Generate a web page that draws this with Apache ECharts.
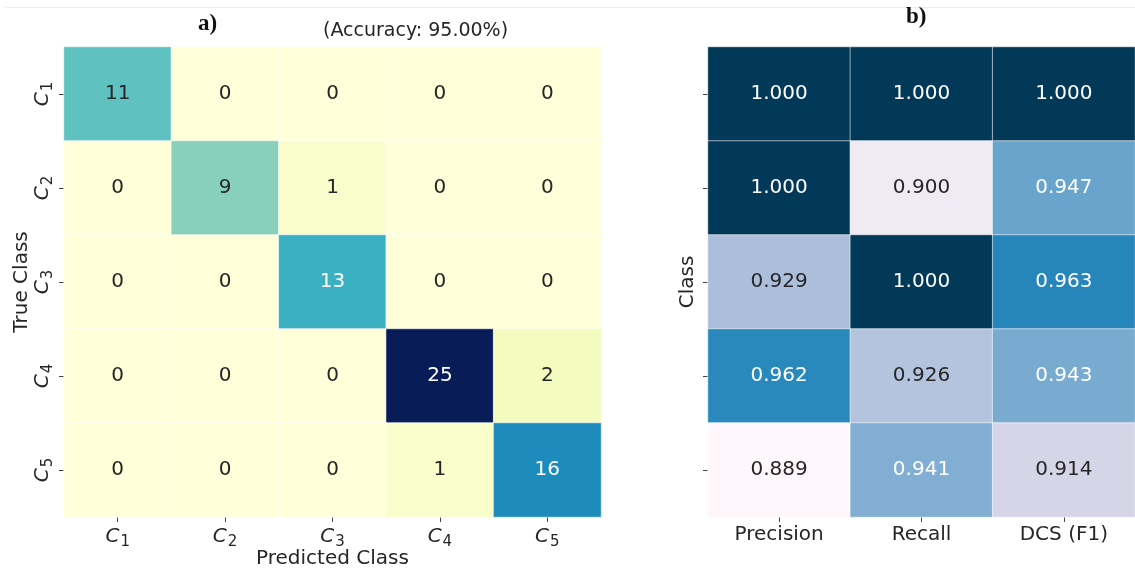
<!DOCTYPE html>
<html>
<head>
<meta charset="utf-8">
<script src="https://cdn.jsdelivr.net/npm/echarts@6/dist/echarts.min.js"></script>
<style>
html,body{margin:0;padding:0;background:#fff;}
#chart{width:1135px;height:569px;}
</style>
</head>
<body>
<div id="chart"></div>
<script>
// ---- data ----
const classSubs = ['1', '2', '3', '4', '5'];
const confusion = [
  [11, 0, 0, 0, 0],
  [0, 9, 1, 0, 0],
  [0, 0, 13, 0, 0],
  [0, 0, 0, 25, 2],
  [0, 0, 0, 1, 16]
];
const metricNames = ['Precision', 'Recall', 'DCS (F1)'];
const precision = [1.000, 1.000, 0.929, 0.962, 0.889];
const recall = [1.000, 0.900, 1.000, 0.926, 0.941];
const f1 = [1.000, 0.947, 0.963, 0.943, 0.914];
const accuracyText = '(Accuracy: 95.00%)';

// ---- colour maps ----
const YlGnBu = ['#ffffd9', '#edf8b1', '#c7e9b4', '#7fcdbb', '#41b6c4', '#1d91c0', '#225ea8', '#253494', '#081d58'];
const PuBu = ['#fff7fb', '#ece7f2', '#d0d1e6', '#a6bddb', '#74a9cf', '#3690c0', '#0570b0', '#045a8d', '#023858'];

const dark = '#262626';
const fontMain = 'DejaVu Sans';

const cmData = [];
confusion.forEach((row, r) => row.forEach((v, c) => {
  cmData.push({ value: [c, r, v], label: { color: v >= 13 ? '#ffffff' : dark } });
}));
const metricCols = [precision, recall, f1];
const mData = [];
metricCols.forEach((col, c) => col.forEach((v, r) => {
  mData.push({ value: [c, r, v], label: { color: v >= 0.94 ? '#ffffff' : dark } });
}));

const classCats = classSubs.map(s => 'C' + s);
const richC = {
  c: { fontFamily: fontMain, fontStyle: 'italic', fontSize: 20, color: dark, lineHeight: 26 },
  s: { fontFamily: fontMain, fontSize: 15, color: dark, lineHeight: 26, verticalAlign: 'bottom', padding: [9, 0, 0, 1] }
};
const fmtC = v => '{c|C}{s|' + v.slice(1) + '}';

const chart = echarts.init(document.getElementById('chart'));
chart.setOption({
  backgroundColor: '#ffffff',
  animation: false,
  graphic: [
    { type: 'line', shape: { x1: 5, y1: 7.5, x2: 1135, y2: 7.5 }, style: { stroke: '#eeeeee', lineWidth: 1 } },
    { type: 'text', left: 198, top: 13, style: { text: 'a)', font: 'bold 23px "Liberation Serif"', fill: '#111' } },
    { type: 'text', left: 323, top: 22, style: { text: accuracyText, font: '19px "DejaVu Sans"', fill: dark } },
    { type: 'text', left: 906, top: 6, style: { text: 'b)', font: 'bold 23px "Liberation Serif"', fill: '#111' } }
  ],
  grid: [
    { left: 64, top: 47, width: 537, height: 470, outerBoundsMode: 'none', containLabel: false },
    { left: 708, top: 47, width: 427, height: 470, outerBoundsMode: 'none', containLabel: false }
  ],
  xAxis: [
    {
      type: 'category', gridIndex: 0, data: classCats,
      axisLine: { show: false }, splitLine: { show: false },
      axisTick: { show: true, alignWithLabel: true, length: 5, lineStyle: { color: '#444' } },
      axisLabel: { margin: 7, formatter: fmtC, rich: richC },
      name: 'Predicted Class', nameLocation: 'middle', nameGap: 32, nameMoveOverlap: false,
      nameTextStyle: { fontFamily: fontMain, fontSize: 20, color: dark }
    },
    {
      type: 'category', gridIndex: 1, data: metricNames,
      axisLine: { show: false }, splitLine: { show: false },
      axisTick: { show: true, alignWithLabel: true, length: 5, lineStyle: { color: '#444' } },
      axisLabel: { margin: 8, fontFamily: fontMain, fontSize: 20, color: dark }
    }
  ],
  yAxis: [
    {
      type: 'category', gridIndex: 0, data: classCats, inverse: true,
      axisLine: { show: false }, splitLine: { show: false },
      axisTick: { show: true, alignWithLabel: true, length: 5, lineStyle: { color: '#444' } },
      axisLabel: { margin: 8, rotate: 90, formatter: fmtC, rich: richC },
      name: 'True Class', nameLocation: 'middle', nameGap: 32, nameRotate: 90, nameMoveOverlap: false,
      nameTextStyle: { fontFamily: fontMain, fontSize: 20, color: dark }
    },
    {
      type: 'category', gridIndex: 1, data: classCats, inverse: true,
      axisLine: { show: false }, splitLine: { show: false },
      axisTick: { show: true, alignWithLabel: true, length: 5, lineStyle: { color: '#444' } },
      axisLabel: { show: false },
      name: 'Class', nameLocation: 'middle', nameGap: 10, nameRotate: 90, nameMoveOverlap: false,
      nameTextStyle: { fontFamily: fontMain, fontSize: 20, color: dark }
    }
  ],
  visualMap: [
    { type: 'continuous', seriesIndex: 0, min: 0, max: 25, show: false, inRange: { color: YlGnBu } },
    { type: 'continuous', seriesIndex: 1, min: 0.889, max: 1.0, show: false, inRange: { color: PuBu } }
  ],
  series: [
    {
      type: 'heatmap', xAxisIndex: 0, yAxisIndex: 0, data: cmData,
      label: { show: true, fontFamily: fontMain, fontSize: 20, formatter: p => String(p.value[2]) },
      itemStyle: { borderColor: 'rgba(255,255,255,0.55)', borderWidth: 1 },
      emphasis: { disabled: true }
    },
    {
      type: 'heatmap', xAxisIndex: 1, yAxisIndex: 1, data: mData,
      label: { show: true, fontFamily: fontMain, fontSize: 20, formatter: p => p.value[2].toFixed(3) },
      itemStyle: { borderColor: 'rgba(255,255,255,0.55)', borderWidth: 1 },
      emphasis: { disabled: true }
    }
  ]
});
</script>
</body>
</html>
